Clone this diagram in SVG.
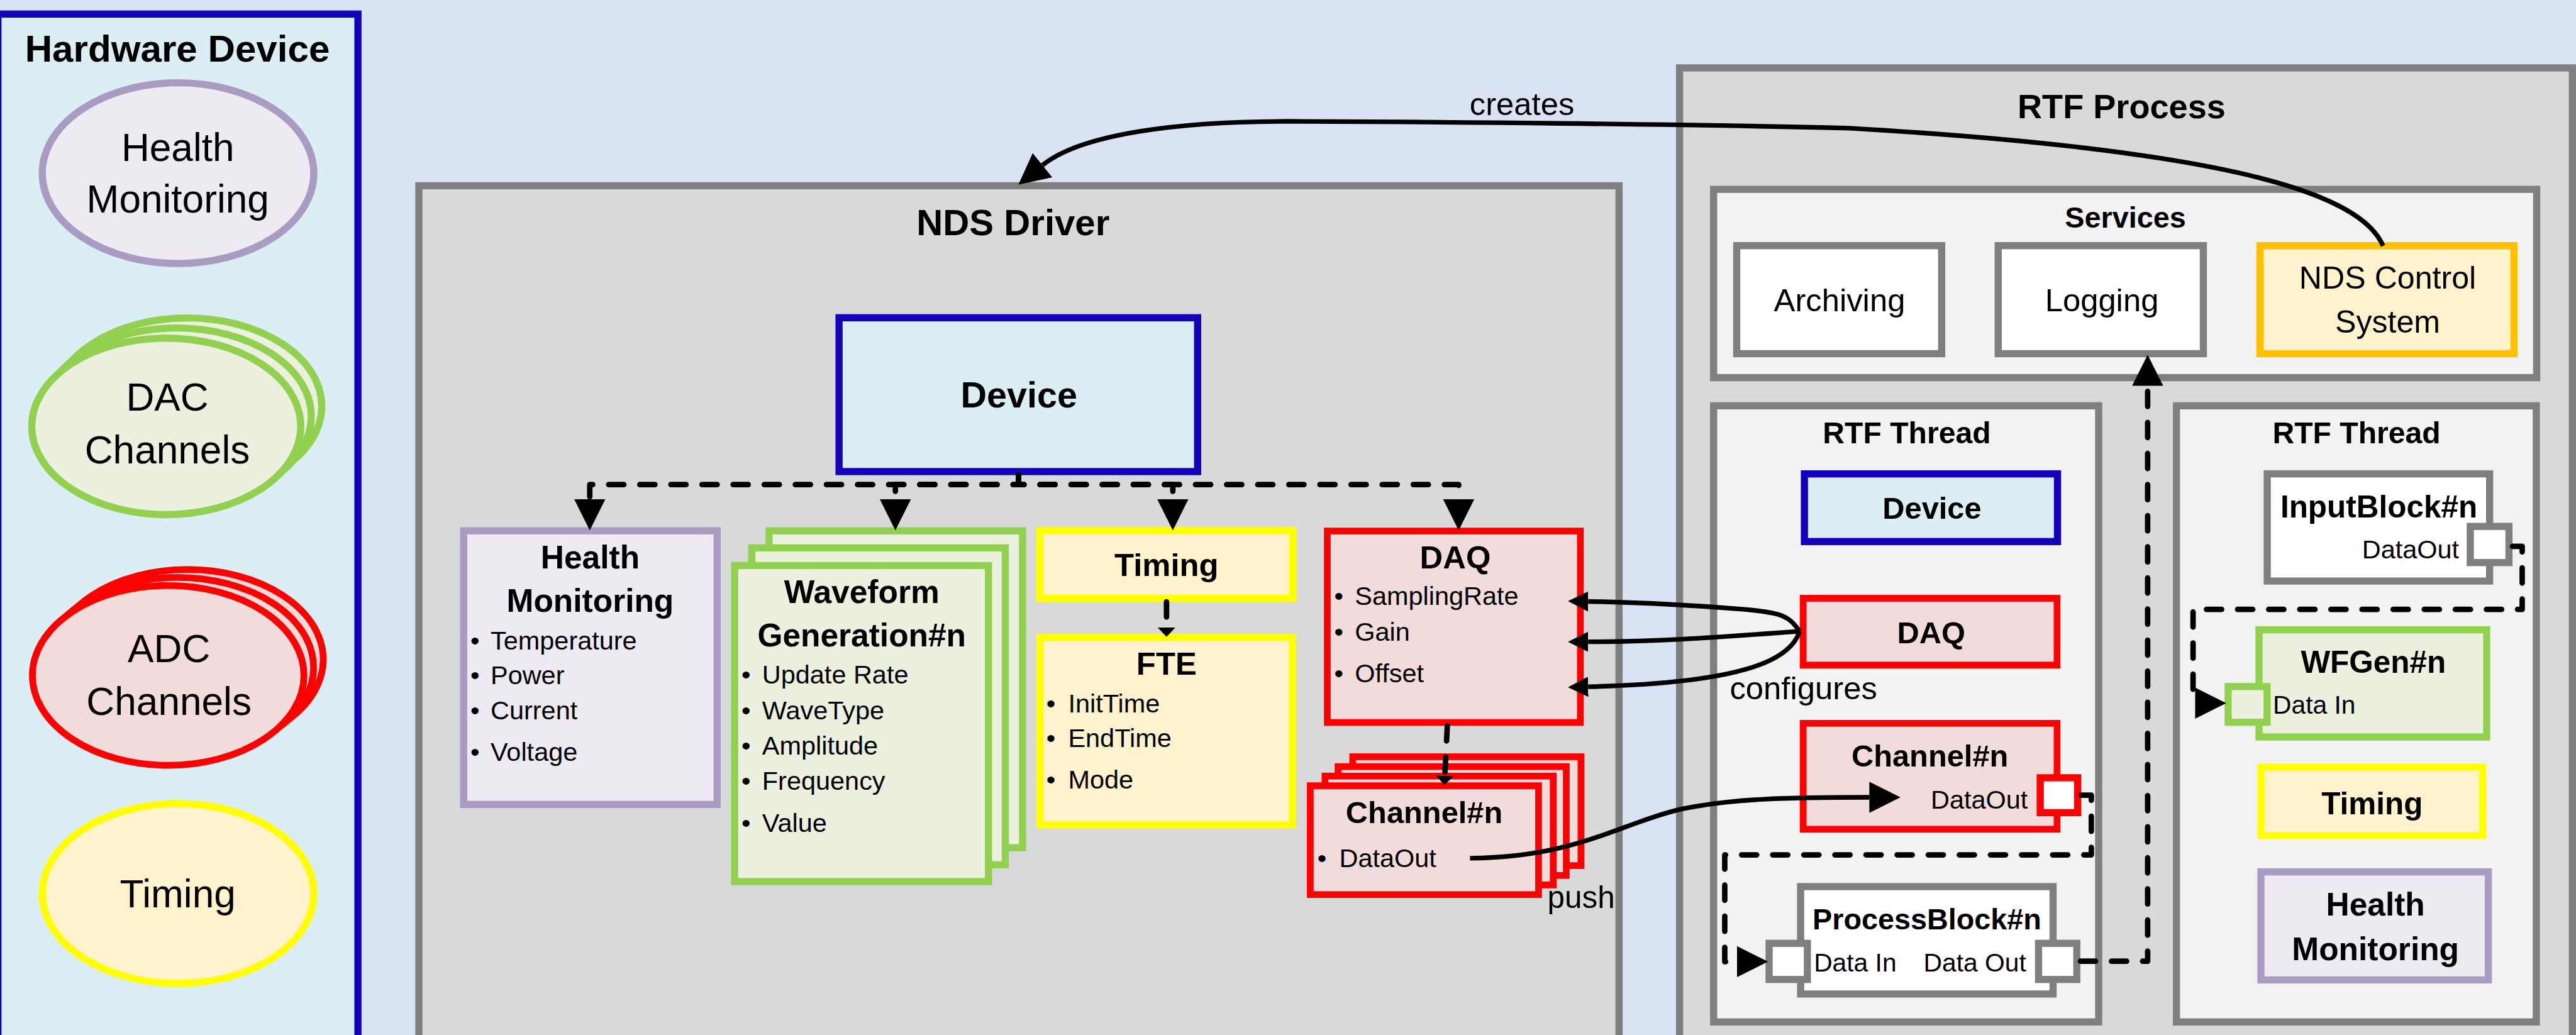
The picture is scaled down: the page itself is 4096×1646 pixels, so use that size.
<svg xmlns="http://www.w3.org/2000/svg" width="4096" height="1646" viewBox="0 0 4096 1646">
<style>
.grayC{fill:#D9D9D9;stroke:#7F7F7F;stroke-width:17}
.lightC{fill:#F2F2F2;stroke:#7F7F7F;stroke-width:17}
.white{fill:#FFFFFF;stroke:#7F7F7F;stroke-width:17}
.blue{fill:#DAEEF3;stroke:#1400B8;stroke-width:17}
.purple{fill:#EDEAF2;stroke:#A99BC1;stroke-width:17}
.green{fill:#EBF1DE;stroke:#92D050;stroke-width:17}
.red{fill:#F2DCDB;stroke:#FF0000;stroke-width:16}
.yellow{fill:#FFF2CC;stroke:#FFFF00;stroke-width:17}
.orange{fill:#FFF2CC;stroke:#FFC000;stroke-width:17}
.redW{fill:#FFFFFF;stroke:#FF0000;stroke-width:17}
.greenP{fill:#EBF1DE;stroke:#92D050;stroke-width:17}
text{font-family:"Liberation Sans",Arial,sans-serif;fill:#000}
.b{font-weight:bold}
.c{text-anchor:middle}
.e{text-anchor:end}
.dash{fill:none;stroke:#000;stroke-width:13;stroke-dasharray:36 38;stroke-linecap:round;stroke-linejoin:round}
.solid{fill:none;stroke:#000;stroke-width:11}
</style>
<defs>
<marker id="big" viewBox="0 -40 80 80" refX="0" refY="0" markerWidth="80" markerHeight="80" markerUnits="userSpaceOnUse" orient="auto"><path d="M0,-37 L74,0 L0,37 z" fill="#000"/></marker>
<marker id="mid" viewBox="0 -30 55 60" refX="0" refY="0" markerWidth="55" markerHeight="60" markerUnits="userSpaceOnUse" orient="auto"><path d="M0,-24 L48,0 L0,24 z" fill="#000"/></marker>
<marker id="small" viewBox="0 -24 26 48" refX="0" refY="0" markerWidth="26" markerHeight="48" markerUnits="userSpaceOnUse" orient="auto"><path d="M0,-21 L22,0 L0,21 z" fill="#000"/></marker>
</defs>
<g transform="scale(0.668407)">
<rect x="0" y="0" width="6128" height="2463" fill="#DAE3F3"/>

<g id="hardware-device">
<rect x="-5" y="33.5" width="856.5" height="2500" class="blue"/>
<text x="422" y="146" font-size="90" class="b c">Hardware Device</text>
</g>
<g id="hw-health">
<ellipse cx="423.5" cy="412" rx="323" ry="215" class="purple" stroke-width="16"/>
<text x="423" y="383" font-size="93" class="c">Health</text>
<text x="423" y="505" font-size="93" class="c">Monitoring</text>
</g>
<g id="hw-dac">
<ellipse cx="445.5" cy="966.5" rx="320" ry="210" class="green" stroke-width="16"/>
<ellipse cx="420.5" cy="990.5" rx="320" ry="210" class="green" stroke-width="16"/>
<ellipse cx="395.5" cy="1014.5" rx="320" ry="210" class="green" stroke-width="16"/>
<text x="398" y="977" font-size="93" class="c">DAC</text>
<text x="398" y="1102" font-size="93" class="c">Channels</text>
</g>
<g id="hw-adc">
<ellipse cx="446" cy="1569" rx="323" ry="214" class="red" stroke-width="16"/>
<ellipse cx="423" cy="1588" rx="323" ry="214" class="red" stroke-width="16"/>
<ellipse cx="400" cy="1607" rx="323" ry="214" class="red" stroke-width="16"/>
<text x="402" y="1575" font-size="93" class="c">ADC</text>
<text x="402" y="1701" font-size="93" class="c">Channels</text>
</g>
<g id="hw-timing">
<ellipse cx="423.5" cy="2126" rx="323" ry="214" class="yellow" stroke-width="16"/>
<text x="423" y="2159" font-size="93" class="c">Timing</text>
</g>

<g id="nds-driver">
<rect x="996.5" y="442" width="2855" height="2200" class="grayC"/>
<text x="2410" y="560" font-size="87" class="b c">NDS Driver</text>
</g>
<g id="nds-device">
<rect x="1996" y="756" width="853" height="366" class="blue" stroke-width="16"/>
<text x="2424" y="970" font-size="86" class="b c">Device</text>
</g>
<g id="nds-health">
<rect x="1103" y="1263" width="603" height="651" class="purple"/>
<text x="1404" y="1353" font-size="77" class="b c">Health</text>
<text x="1404" y="1456" font-size="77" class="b c">Monitoring</text>
<text font-size="62"><tspan x="1119" y="1545">•</tspan><tspan x="1167" y="1545">Temperature</tspan></text>
<text font-size="62"><tspan x="1119" y="1628">•</tspan><tspan x="1167" y="1628">Power</tspan></text>
<text font-size="62"><tspan x="1119" y="1712">•</tspan><tspan x="1167" y="1712">Current</tspan></text>
<text font-size="62"><tspan x="1119" y="1810">•</tspan><tspan x="1167" y="1810">Voltage</tspan></text>
</g>
<g id="nds-waveform">
<rect x="1829.5" y="1263" width="603" height="754" class="green"/>
<rect x="1788.5" y="1303.5" width="603" height="754" class="green"/>
<rect x="1747.5" y="1345.5" width="604" height="752" class="green"/>
<text x="2050" y="1435" font-size="77" class="b c">Waveform</text>
<text x="2050" y="1538" font-size="77" class="b c">Generation#n</text>
<text font-size="62"><tspan x="1764" y="1627">•</tspan><tspan x="1813" y="1627">Update Rate</tspan></text>
<text font-size="62"><tspan x="1764" y="1711">•</tspan><tspan x="1813" y="1711">WaveType</tspan></text>
<text font-size="62"><tspan x="1764" y="1796">•</tspan><tspan x="1813" y="1796">Amplitude</tspan></text>
<text font-size="62"><tspan x="1764" y="1879">•</tspan><tspan x="1813" y="1879">Frequency</tspan></text>
<text font-size="62"><tspan x="1764" y="1979">•</tspan><tspan x="1813" y="1979">Value</tspan></text>
</g>
<g id="nds-timing">
<rect x="2473.5" y="1262.5" width="602" height="161" class="yellow"/>
<text x="2775" y="1370" font-size="76" class="b c">Timing</text>
</g>
<g id="nds-fte">
<rect x="2474.5" y="1517" width="600" height="446" class="yellow"/>
<text x="2775" y="1605" font-size="76" class="b c">FTE</text>
<text font-size="62"><tspan x="2489" y="1695">•</tspan><tspan x="2541" y="1695">InitTime</tspan></text>
<text font-size="62"><tspan x="2489" y="1778">•</tspan><tspan x="2541" y="1778">EndTime</tspan></text>
<text font-size="62"><tspan x="2489" y="1876">•</tspan><tspan x="2541" y="1876">Mode</tspan></text>
</g>
<g id="nds-daq">
<rect x="3157.5" y="1263.5" width="602" height="455.5" class="red" stroke-width="17"/>
<text x="3462" y="1352" font-size="76" class="b c">DAQ</text>
<text font-size="62"><tspan x="3174" y="1440">•</tspan><tspan x="3223" y="1440">SamplingRate</tspan></text>
<text font-size="62"><tspan x="3174" y="1525">•</tspan><tspan x="3223" y="1525">Gain</tspan></text>
<text font-size="62"><tspan x="3174" y="1623">•</tspan><tspan x="3223" y="1623">Offset</tspan></text>
</g>
<g id="nds-channel">
<rect x="3218" y="1800.5" width="543" height="259" class="red"/>
<rect x="3183" y="1824" width="543" height="259" class="red"/>
<rect x="3152" y="1846.5" width="543" height="259" class="red"/>
<rect x="3117" y="1869.5" width="543" height="259" class="red"/>
<text x="3388" y="1959" font-size="73" class="b c">Channel#n</text>
<text font-size="62"><tspan x="3134" y="2063">•</tspan><tspan x="3186" y="2063">DataOut</tspan></text>
</g>

<g id="rtf-process">
<rect x="3995.5" y="161.5" width="2124" height="2450" class="grayC"/>
<text x="5047" y="281" font-size="81" class="b c">RTF Process</text>
</g>
<g id="services">
<rect x="4076.5" y="450.5" width="1958" height="448" class="lightC"/>
<text x="5056" y="541" font-size="70" class="b c">Services</text>
</g>
<g id="archiving">
<rect x="4131.5" y="584.5" width="487.5" height="257" class="white"/>
<text x="4376" y="740" font-size="76" class="c">Archiving</text>
</g>
<g id="logging">
<rect x="4753.5" y="584.5" width="488" height="257" class="white"/>
<text x="5000" y="740" font-size="76" class="c">Logging</text>
</g>
<g id="nds-control-system">
<rect x="5376.5" y="584.5" width="604" height="257" class="orange"/>
<text x="5680" y="687" font-size="75" class="c">NDS Control</text>
<text x="5680" y="791" font-size="75" class="c">System</text>
</g>

<g id="rtf-thread-1">
<rect x="4076.5" y="965.5" width="916" height="1466" class="lightC"/>
<text x="4536" y="1055" font-size="72" class="b c">RTF Thread</text>
</g>
<g id="rtf-device">
<rect x="4292.5" y="1127.5" width="602" height="161" class="blue"/>
<text x="4596" y="1234" font-size="73" class="b c">Device</text>
</g>
<g id="rtf-daq">
<rect x="4289.5" y="1423.5" width="604" height="159" class="red" stroke-width="17"/>
<text x="4594" y="1531" font-size="73" class="b c">DAQ</text>
</g>
<g id="rtf-channel">
<rect x="4289.5" y="1721" width="604" height="252" class="red" stroke-width="17"/>
<text x="4591" y="1824" font-size="73" class="b c">Channel#n</text>
<text x="4824" y="1924" font-size="62" class="e">DataOut</text>
<rect x="4853.5" y="1850.5" width="89" height="83" class="redW"/>
</g>
<g id="process-block">
<rect x="4283.5" y="2109.5" width="600.5" height="255.5" class="white"/>
<text x="4584" y="2211" font-size="70" class="b c">ProcessBlock#n</text>
<text x="4315" y="2311" font-size="61">Data In</text>
<text x="4576" y="2311" font-size="61">Data Out</text>
<rect x="4208.5" y="2244.5" width="91" height="86" class="white"/>
<rect x="4849.5" y="2244.5" width="91" height="86" class="white"/>
</g>

<g id="rtf-thread-2">
<rect x="5177.5" y="965.5" width="856" height="1466" class="lightC"/>
<text x="5606" y="1055" font-size="72" class="b c">RTF Thread</text>
</g>
<g id="input-block">
<rect x="5393.5" y="1127.5" width="529" height="255" class="white"/>
<text x="5659" y="1231" font-size="74" class="b c">InputBlock#n</text>
<text x="5619" y="1329" font-size="62">DataOut</text>
<rect x="5876.5" y="1252.5" width="92" height="86" class="white"/>
</g>
<g id="wfgen">
<rect x="5374" y="1498.5" width="541.5" height="255" class="green"/>
<text x="5646" y="1601" font-size="74" class="b c">WFGen#n</text>
<text x="5407" y="1698" font-size="61">Data In</text>
<rect x="5300.5" y="1633.5" width="92.6" height="85" class="greenP"/>
</g>
<g id="rtf-timing">
<rect x="5378.5" y="1825.5" width="528" height="162.5" class="yellow"/>
<text x="5643" y="1937" font-size="74" class="b c">Timing</text>
</g>
<g id="rtf-health">
<rect x="5378.5" y="2074.5" width="541" height="257" class="purple"/>
<text x="5651" y="2179" font-size="77" class="b c">Health</text>
<text x="5651" y="2284" font-size="77" class="b c">Monitoring</text>
</g>

<g id="connectors">
<path class="solid" stroke-width="12" d="M5669,585 C5620,470 5350,360 4400,305 C4000,295 3400,290 3100,289 C2800,286 2570,320 2480,393" marker-end="url(#big)"/>
<text x="3496" y="274" font-size="76">creates</text>
<path class="dash" stroke-width="14" d="M2423,1130 V1153 H1403 V1188" marker-end="url(#big)"/>
<path class="dash" stroke-width="14" d="M2423,1130 V1153 H2130 V1188" marker-end="url(#big)"/>
<path class="dash" stroke-width="14" d="M2423,1130 V1153 H2790 V1188" marker-end="url(#big)"/>
<path class="dash" stroke-width="14" d="M2423,1130 V1153 H3470 V1188" marker-end="url(#big)"/>
<path class="dash" stroke-width="14" d="M2775,1432 V1493" marker-end="url(#small)"/>
<path class="dash" stroke-width="14" d="M3443,1727 L3437,1846" marker-end="url(#small)"/>
<path class="solid" stroke-width="10" d="M4281,1502 C4255,1465 4240,1458 4150,1450 C4000,1438 3900,1433 3778,1431" marker-end="url(#mid)"/>
<path class="solid" stroke-width="10" d="M4281,1502 C4100,1515 3950,1527 3778,1527" marker-end="url(#mid)"/>
<path class="solid" stroke-width="10" d="M4281,1502 C4260,1570 4150,1625 3778,1634" marker-end="url(#mid)"/>
<text x="4115" y="1663" font-size="76">configures</text>
<path class="solid" d="M3497,2042 C3750,2040 3850,1960 4000,1925 C4120,1900 4250,1897 4447,1897" marker-end="url(#big)"/>
<text x="3681" y="2161" font-size="74">push</text>
<path class="dash" d="M4951,1892 H4975 V2034 H4103 V2288 H4132" marker-end="url(#big)"/>
<path class="dash" d="M4949,2287 H5109 V918" marker-end="url(#big)"/>
<path class="dash" d="M5977,1300 H6000 V1450 H5217 V1673 H5222" marker-end="url(#big)"/>
</g>
</g>
</svg>
